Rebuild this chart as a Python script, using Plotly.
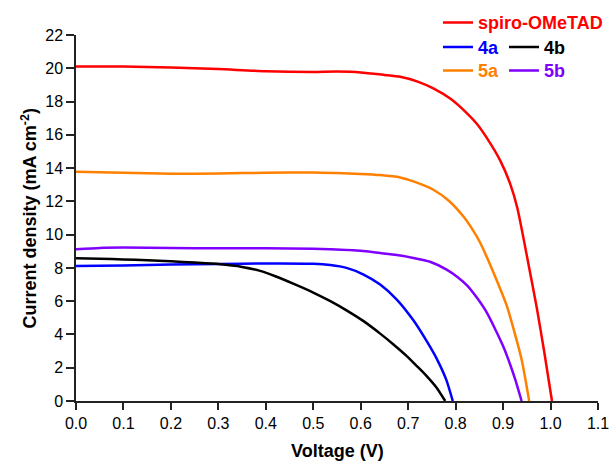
import plotly.graph_objects as go

# ---- data ----
spiro_v = [0, 0.1, 0.2, 0.3, 0.4, 0.5, 0.55, 0.6, 0.65, 0.683, 0.72, 0.753, 0.79, 0.824, 0.845, 0.866, 0.894, 0.915, 0.93, 0.953, 0.971, 0.987, 1.003]
spiro_j = [20.1, 20.1, 20.05, 19.95, 19.82, 19.78, 19.8, 19.75, 19.6, 19.49, 19.2, 18.79, 18.15, 17.29, 16.65, 15.8, 14.45, 13.05, 11.6, 8.3, 5.6, 2.9, 0]

a5_v = [0, 0.1, 0.2, 0.3, 0.4, 0.5, 0.55, 0.6, 0.641, 0.683, 0.711, 0.753, 0.785, 0.816, 0.838, 0.852, 0.883, 0.908, 0.939, 0.955]
a5_j = [13.78, 13.72, 13.66, 13.68, 13.72, 13.74, 13.7, 13.65, 13.58, 13.44, 13.2, 12.7, 12.05, 11.1, 10.2, 9.5, 7.5, 5.7, 2.5, 0]

b5_v = [0, 0.05, 0.1, 0.2, 0.3, 0.4, 0.5, 0.536, 0.6, 0.641, 0.676, 0.711, 0.746, 0.781, 0.803, 0.824, 0.845, 0.866, 0.9, 0.925, 0.939]
b5_j = [9.12, 9.2, 9.22, 9.2, 9.18, 9.18, 9.15, 9.12, 9.03, 8.89, 8.77, 8.6, 8.37, 7.9, 7.47, 6.95, 6.2, 5.3, 3.3, 1.35, 0]

a4_v = [0, 0.1, 0.2, 0.3, 0.4, 0.5, 0.536, 0.57, 0.606, 0.641, 0.676, 0.711, 0.74, 0.76, 0.78, 0.794]
a4_j = [8.11, 8.15, 8.2, 8.23, 8.27, 8.25, 8.17, 8.0, 7.6, 7.0, 6.1, 4.85, 3.55, 2.55, 1.3, 0]

b4_v = [0, 0.05, 0.1, 0.15, 0.2, 0.25, 0.3, 0.35, 0.388, 0.42, 0.459, 0.5, 0.536, 0.57, 0.606, 0.641, 0.669, 0.697, 0.72, 0.739, 0.76, 0.778]
b4_j = [8.58, 8.55, 8.51, 8.46, 8.4, 8.32, 8.23, 8.06, 7.82, 7.5, 7.04, 6.52, 6.0, 5.45, 4.8, 4.05, 3.4, 2.7, 2.05, 1.5, 0.8, 0]

x_ticks = [0.0, 0.1, 0.2, 0.3, 0.4, 0.5, 0.6, 0.7, 0.8, 0.9, 1.0, 1.1]
y_ticks = [0, 2, 4, 6, 8, 10, 12, 14, 16, 18, 20, 22]

FONT = "Liberation Sans, Arial, sans-serif"

series = [
    ("spiro-OMeTAD", spiro_v, spiro_j, "#ff0000", "legend"),
    ("4a", a4_v, a4_j, "#0000ff", "legend2"),
    ("4b", b4_v, b4_j, "#000000", "legend3"),
    ("5a", a5_v, a5_j, "#ff8000", "legend4"),
    ("5b", b5_v, b5_j, "#8000ff", "legend5"),
]

fig = go.Figure()
for name, v, j, col, leg in series:
    fig.add_trace(go.Scatter(x=v, y=j, mode="lines", name=name,
                             line=dict(color=col, width=2.5, shape="spline", smoothing=0.6),
                             legend=leg))

W, H = 609, 461


def legend_at(xpx, ypx, color):
    return dict(x=xpx / W, y=1 - ypx / H, xanchor="left", yanchor="middle",
                xref="container", yref="container",
                bgcolor="rgba(0,0,0,0)", borderwidth=0, itemwidth=30,
                font=dict(family=FONT, size=18, color=color, weight="bold"),
                tracegroupgap=0)


PL, PT, PW, PH = 75.5, 35, 522.5, 366
fig.update_layout(
    width=W, height=H,
    margin=dict(l=PL, r=W - PL - PW, t=PT, b=H - PT - PH, autoexpand=False),
    paper_bgcolor="white", plot_bgcolor="white",
    showlegend=True,
    legend=legend_at(438, 22.7, "#ff0000"),
    legend2=legend_at(438, 47.3, "#0000ff"),
    legend3=legend_at(504, 47.3, "#000000"),
    legend4=legend_at(438, 70.7, "#ff8000"),
    legend5=legend_at(504, 70.7, "#8000ff"),
    xaxis=dict(range=[0, 1.1], tickvals=x_ticks, ticktext=[f"{t:.1f}" for t in x_ticks],
               showgrid=False, zeroline=False, showline=True, linecolor="#222", linewidth=1.5,
               ticks="outside", ticklen=7, tickwidth=1.5, tickcolor="#222", automargin=False,
               ticklabeloverflow="allow",
               tickfont=dict(family=FONT, size=16, color="black")),
    yaxis=dict(range=[0, 22], tickvals=y_ticks,
               showgrid=False, zeroline=False, showline=True, linecolor="#222", linewidth=1.5,
               ticks="outside", ticklen=8, tickwidth=1.5, tickcolor="#222", automargin=False,
               ticklabeloverflow="allow",
               tickfont=dict(family=FONT, size=16, color="black")),
    annotations=[
        dict(text="<b>Voltage (V)</b>", xref="paper", yref="paper", x=0.5, y=(401 - 451) / PH,
             xanchor="center", yanchor="middle", showarrow=False,
             font=dict(family=FONT, size=18, color="black")),
        dict(text="<b>Current density (mA cm<sup>-2</sup>)</b>", xref="paper", yref="paper",
             x=(28 - PL) / PW, y=0.5, textangle=-90, xanchor="center", yanchor="middle",
             showarrow=False, font=dict(family=FONT, size=18, color="black")),
    ],
)

fig.write_html("out.html", config={"displayModeBar": False},
               post_script="document.body.style.margin='0px';document.body.style.overflow='hidden';")
